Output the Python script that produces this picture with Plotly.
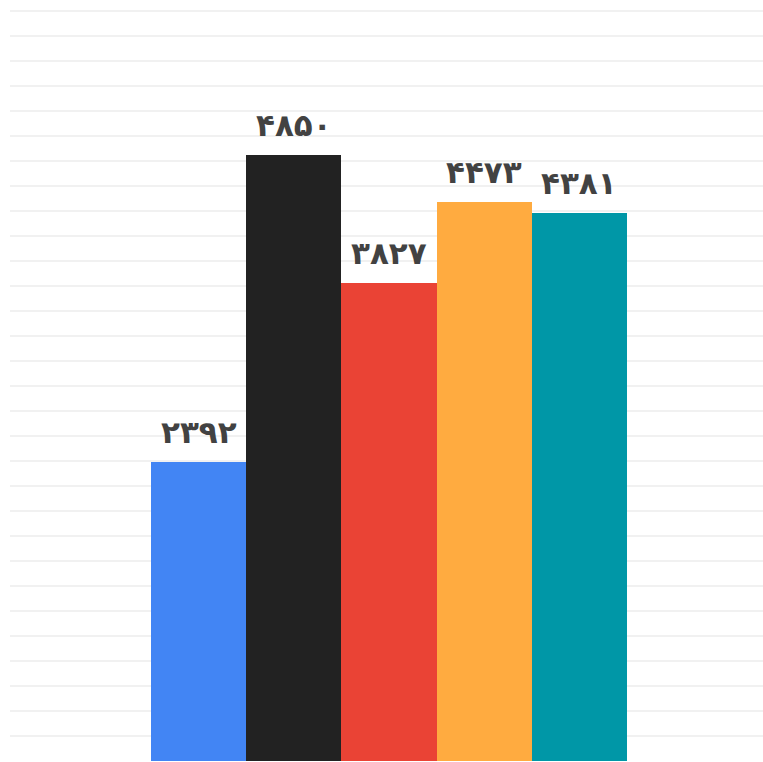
import plotly.graph_objects as go

categories = ["A", "B", "C", "D", "E"]
values = [2392, 4850, 3827, 4473, 4381]
colors = ["#4285f4", "#222222", "#ea4335", "#ffab40", "#0097a7"]

fa_digits = str.maketrans("0123456789", "۰۱۲۳۴۵۶۷۸۹")
labels = [str(v).translate(fa_digits) for v in values]

x_idx = list(range(len(categories)))

fig = go.Figure()
fig.add_trace(go.Bar(
    x=x_idx, y=values, marker=dict(color=colors, line=dict(width=0)),
    width=1.0, hoverinfo="skip", showlegend=False,
))
for i, (v, t) in enumerate(zip(values, labels)):
    fig.add_annotation(
        x=i, y=v, text=t, showarrow=False, yanchor="bottom", yshift=10,
        font=dict(family="DejaVu Sans", size=31, color="#424242", weight="bold"),
    )

fig.update_layout(
    width=763, height=762,
    margin=dict(l=10, r=0, t=8, b=0, pad=0),
    paper_bgcolor="white", plot_bgcolor="white",
    bargap=0,
    xaxis=dict(range=[-1.981, 5.929], showgrid=False, zeroline=False,
               showticklabels=False, ticks=""),
    yaxis=dict(range=[-8, 6024], tick0=0, dtick=200, showgrid=True, gridcolor="#f1f1f1",
               gridwidth=2, zeroline=False, showticklabels=False, ticks=""),
)

fig.write_html(
    "out.html",
    config={"displayModeBar": False},
    post_script="document.body.style.margin='0';document.body.style.overflow='hidden';",
)
